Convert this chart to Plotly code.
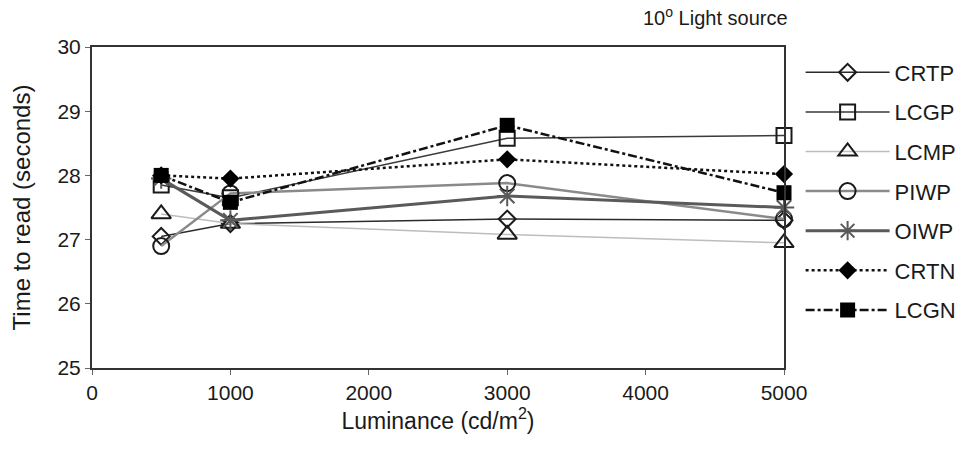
import plotly.graph_objects as go

# Luminance levels (cd/m^2)
luminance = [500, 1000, 3000, 5000]

# Mean time to read (seconds) for each display condition
crtp = [27.05, 27.25, 27.32, 27.30]
lcgp = [27.85, 27.65, 28.58, 28.62]
lcmp = [27.40, 27.25, 27.08, 26.95]
piwp = [26.90, 27.72, 27.88, 27.32]
oiwp = [27.95, 27.30, 27.68, 27.50]
crtn = [28.00, 27.95, 28.25, 28.02]
lcgn = [28.00, 27.58, 28.78, 27.73]

series_names = ["CRTP", "LCGP", "LCMP", "PIWP", "OIWP", "CRTN", "LCGN"]
series_values = [crtp, lcgp, lcmp, piwp, oiwp, crtn, lcgn]

x_ticks = [0, 1000, 2000, 3000, 4000, 5000]
y_ticks = [25, 26, 27, 28, 29, 30]

FONT = "Liberation Sans, Arial, sans-serif"

styles = {
    "CRTP": dict(line=dict(color="#2b2b2b", width=1.5, dash="solid"),
                 marker=dict(symbol="diamond-open", size=13, color="#1a1a1a",
                             line=dict(width=2))),
    "LCGP": dict(line=dict(color="#3a3a3a", width=1.5, dash="solid"),
                 marker=dict(symbol="square-open", size=15, color="#1a1a1a",
                             line=dict(width=2))),
    "LCMP": dict(line=dict(color="#bdbdbd", width=1.5, dash="solid"),
                 marker=dict(symbol="triangle-up-open", size=17, color="#1a1a1a",
                             line=dict(width=2))),
    "PIWP": dict(line=dict(color="#8a8a8a", width=2.5, dash="solid"),
                 marker=dict(symbol="circle-open", size=16, color="#1a1a1a",
                             line=dict(width=2))),
    "OIWP": dict(line=dict(color="#5a5a5a", width=3, dash="solid"),
                 marker=dict(symbol="asterisk-open", size=17, color="#5a5a5a",
                             line=dict(width=2))),
    "CRTN": dict(line=dict(color="#111111", width=2.5, dash="dot"),
                 marker=dict(symbol="diamond", size=14, color="#000000",
                             line=dict(width=0))),
    "LCGN": dict(line=dict(color="#111111", width=2.5, dash="dashdot"),
                 marker=dict(symbol="square", size=15, color="#000000",
                             line=dict(width=0))),
}

fig = go.Figure()
for name, vals in zip(series_names, series_values):
    fig.add_trace(go.Scatter(
        x=luminance, y=vals, name=name, mode="lines+markers",
        legendgroup=name, cliponaxis=False, **styles[name]))

fig.update_layout(
    width=968, height=451,
    margin=dict(l=92, r=184, t=47, b=83, autoexpand=False),
    paper_bgcolor="white", plot_bgcolor="white",
    font=dict(family=FONT, size=22, color="#1a1a1a"),
    showlegend=True,
    legend=dict(
        x=1.024, y=0.986, xanchor="left", yanchor="top",
        font=dict(family=FONT, size=22, color="#1a1a1a"),
        itemwidth=84, tracegroupgap=8,
        bgcolor="rgba(0,0,0,0)",
    ),
    annotations=[dict(
        text="10<sup>o</sup> Light source", x=1.0, y=1.0,
        xref="paper", yref="paper", xanchor="right", yanchor="bottom",
        xshift=6, yshift=16, showarrow=False,
        font=dict(family=FONT, size=20, color="#1a1a1a"),
    )],
)

fig.update_xaxes(
    range=[0, 5000], tickvals=x_ticks, ticktext=[str(v) for v in x_ticks],
    showgrid=False, zeroline=False,
    showline=True, linecolor="#333333", linewidth=2, mirror=True,
    ticks="outside", ticklen=5, tickcolor="#666666",
    tickfont=dict(family=FONT, size=21),
    title=dict(text="Luminance (cd/m<sup>2</sup>)", standoff=4,
               font=dict(family=FONT, size=23)),
)
fig.update_yaxes(
    range=[25, 30], tickvals=y_ticks, ticktext=[str(v) for v in y_ticks],
    showgrid=False, zeroline=False,
    showline=True, linecolor="#333333", linewidth=2, mirror=True,
    ticks="outside", ticklen=5, tickcolor="#666666",
    tickfont=dict(family=FONT, size=21),
    title=dict(text="Time to read (seconds)", standoff=20,
               font=dict(family=FONT, size=24)),
)

fig.write_html("out.html")
